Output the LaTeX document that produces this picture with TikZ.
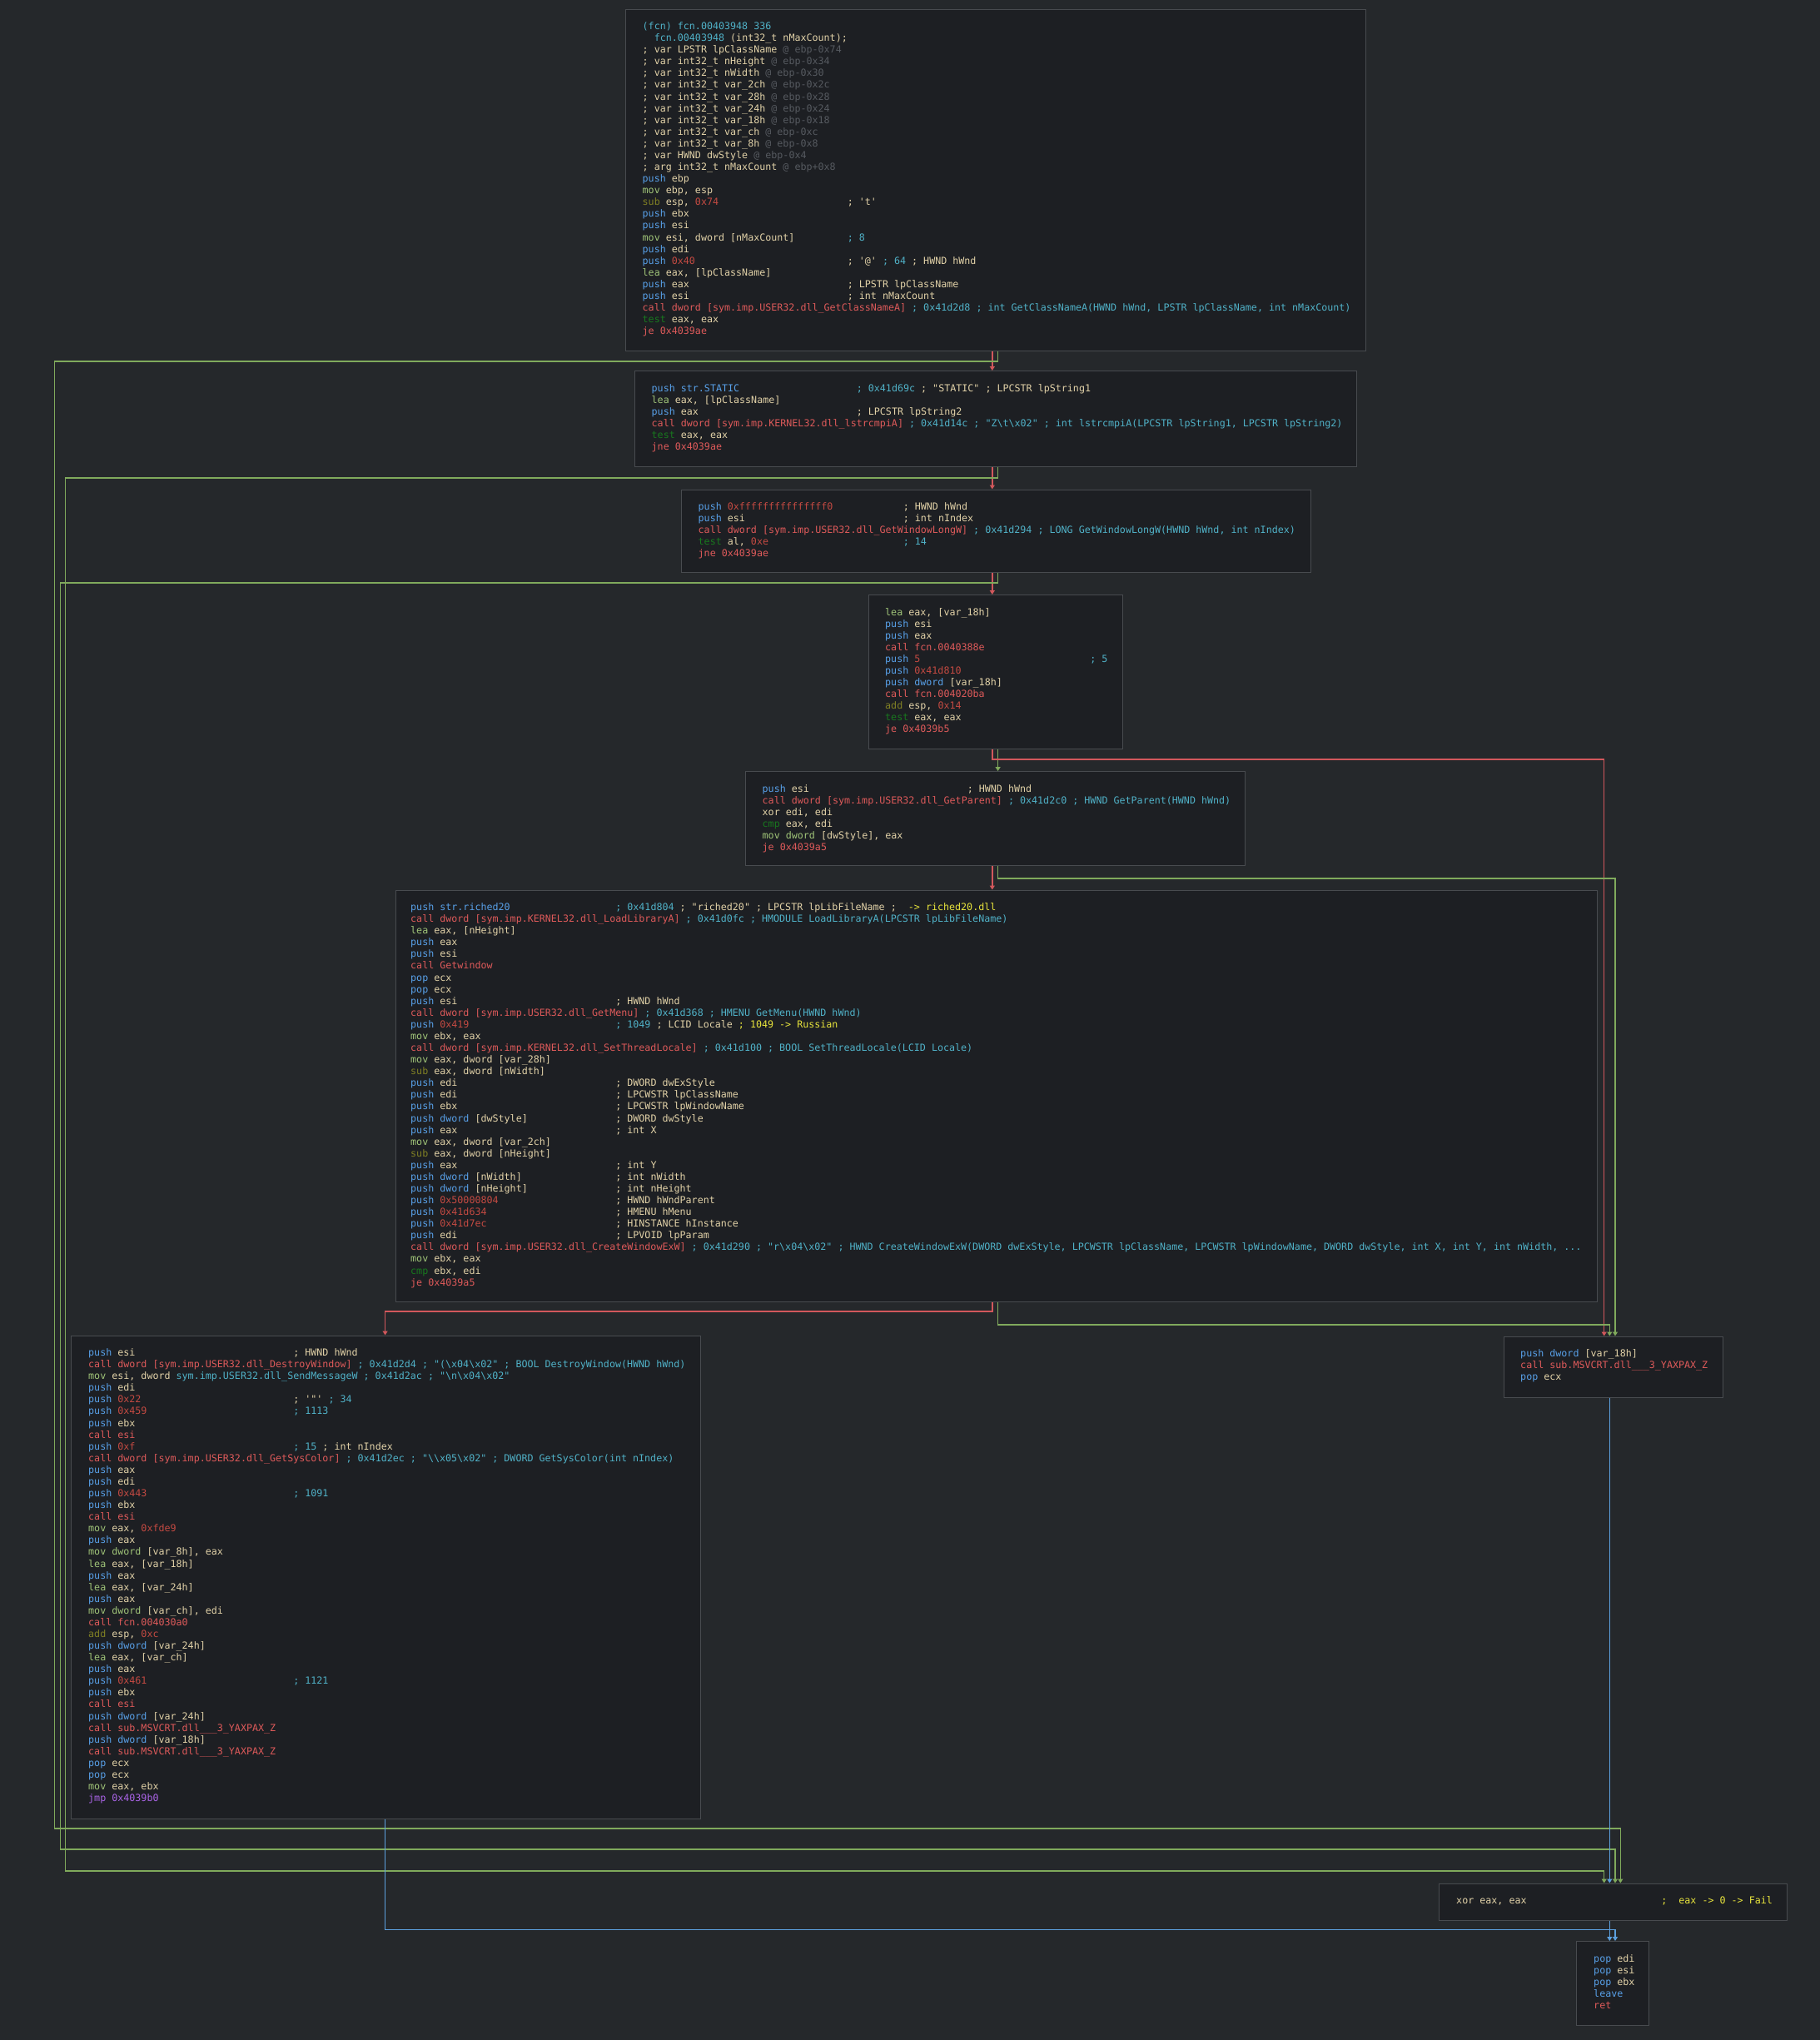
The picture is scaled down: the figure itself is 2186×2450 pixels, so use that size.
\documentclass[tikz,border=0pt]{standalone}
\usepackage{fontspec}
\usepackage{xcolor}
\usetikzlibrary{arrows.meta}
\newfontfamily\asmfont{DejaVu Sans Mono}

\definecolor{bgdark}{RGB}{37,40,43}
\definecolor{boxfill}{RGB}{29,31,35}
\definecolor{boxline}{RGB}{72,75,79}
\definecolor{opblue}{RGB}{88,160,232}
\definecolor{opred}{RGB}{222,90,90}
\definecolor{numred}{RGB}{196,74,66}
\definecolor{opmov}{RGB}{160,196,120}
\definecolor{oparith}{RGB}{128,128,36}
\definecolor{optest}{RGB}{24,120,30}
\definecolor{opjmp}{RGB}{170,100,230}
\definecolor{cmtcyan}{RGB}{80,178,200}
\definecolor{cmtyel}{RGB}{232,228,60}
\definecolor{dimgrey}{RGB}{86,90,96}
\definecolor{plain}{RGB}{226,210,168}
\definecolor{edgegreen}{RGB}{128,170,92}
\definecolor{edgered}{RGB}{210,88,92}
\definecolor{edgeblue}{RGB}{92,160,222}

% token colours
\newcommand\Bl[1]{\textcolor{opblue}{#1}}
\newcommand\Rd[1]{\textcolor{opred}{#1}}
\newcommand\Nm[1]{\textcolor{numred}{#1}}
\newcommand\Mv[1]{\textcolor{opmov}{#1}}
\newcommand\Ar[1]{\textcolor{oparith}{#1}}
\newcommand\Ts[1]{\textcolor{optest}{#1}}
\newcommand\Jp[1]{\textcolor{opjmp}{#1}}
\newcommand\Cy[1]{\textcolor{cmtcyan}{#1}}
\newcommand\Ye[1]{\textcolor{cmtyel}{#1}}
\newcommand\Dm[1]{\textcolor{dimgrey}{#1}}
\newlength\cw
\newcommand\At[2]{\makebox[35\cw][l]{#1}#2}
\newcommand\nl{\\\strut}
\newcommand\bs{\textbackslash}

\begin{document}
\catcode`\_=12
\settowidth{\cw}{\fontsize{11.68}{14.08}\selectfont\asmfont 0}
\begin{tikzpicture}[x=1pt,y=-1pt,>={Triangle[width=6pt,length=5pt]},
    blk/.style={draw=boxline,fill=boxfill,line width=1.2pt,inner sep=0pt,anchor=north west},
    code/.style={anchor=north west,inner sep=0pt,align=left,text=plain,
      font=\fontsize{11.68}{14.08}\selectfont\asmfont},
    tru/.style={->,draw=edgegreen,line width=1.5pt},
    fls/.style={->,draw=edgered,line width=1.5pt},
    unc/.style={->,draw=edgeblue,line width=1.5pt}]
  \fill[bgdark] (0,0) rectangle (2186,2450);
  \useasboundingbox (0,0) rectangle (2186,2450);

  % blocks
  \node[blk,minimum width=889pt,minimum height=410pt] (b1) at (751,10.5) {};
  \node[blk,minimum width=867pt,minimum height=115pt] (b2) at (762,445) {};
  \node[blk,minimum width=755.5pt,minimum height=99.5pt] (b3) at (818,587.5) {};
  \node[blk,minimum width=305pt,minimum height=184.5pt] (b4) at (1042.5,714) {};
  \node[blk,minimum width=600pt,minimum height=112.5pt] (b5) at (895,926) {};
  \node[blk,minimum width=1443.5pt,minimum height=494pt] (b6) at (474.5,1068.5) {};
  \node[blk,minimum width=756pt,minimum height=580pt] (b7) at (85,1603.5) {};
  \node[blk,minimum width=263pt,minimum height=73pt] (b8) at (1805.5,1604.5) {};
  \node[blk,minimum width=418pt,minimum height=44pt] (b9) at (1728,2261.5) {};
  \node[blk,minimum width=87pt,minimum height=101pt] (b10) at (1893,2331) {};

  \node[code] (t1) at ([shift={(20.5,15)}]b1.north west) {\strut\Cy{(fcn) fcn.00403948 336}\nl
    \hspace*{2\cw}\Cy{fcn.00403948} (int32_t nMaxCount);\nl
    ; var LPSTR lpClassName \Dm{@ ebp-0x74}\nl
    ; var int32_t nHeight \Dm{@ ebp-0x34}\nl
    ; var int32_t nWidth \Dm{@ ebp-0x30}\nl
    ; var int32_t var_2ch \Dm{@ ebp-0x2c}\nl
    ; var int32_t var_28h \Dm{@ ebp-0x28}\nl
    ; var int32_t var_24h \Dm{@ ebp-0x24}\nl
    ; var int32_t var_18h \Dm{@ ebp-0x18}\nl
    ; var int32_t var_ch \Dm{@ ebp-0xc}\nl
    ; var int32_t var_8h \Dm{@ ebp-0x8}\nl
    ; var HWND dwStyle \Dm{@ ebp-0x4}\nl
    ; arg int32_t nMaxCount \Dm{@ ebp+0x8}\nl
    \Bl{push} ebp\nl
    \Mv{mov} ebp, esp\nl
    \At{\Ar{sub} esp, \Nm{0x74}}{; 't'}\nl
    \Bl{push} ebx\nl
    \Bl{push} esi\nl
    \At{\Mv{mov} esi, dword [nMaxCount]}{\Cy{; 8}}\nl
    \Bl{push} edi\nl
    \At{\Bl{push} \Nm{0x40}}{; '@' \Cy{; 64} ; HWND hWnd}\nl
    \Mv{lea} eax, [lpClassName]\nl
    \At{\Bl{push} eax}{; LPSTR lpClassName}\nl
    \At{\Bl{push} esi}{; int nMaxCount}\nl
    \Rd{call dword [sym.imp.USER32.dll_GetClassNameA]} \Cy{; 0x41d2d8 ; int GetClassNameA(HWND hWnd, LPSTR lpClassName, int nMaxCount)}\nl
    \Ts{test} eax, eax\nl
    \Rd{je 0x4039ae}};

  \node[code] (t2) at ([shift={(20.5,15)}]b2.north west) {\strut\At{\Bl{push str.STATIC}}{\Cy{; 0x41d69c} ; "STATIC" ; LPCSTR lpString1}\nl
    \Mv{lea} eax, [lpClassName]\nl
    \At{\Bl{push} eax}{; LPCSTR lpString2}\nl
    \Rd{call dword [sym.imp.KERNEL32.dll_lstrcmpiA]} \Cy{; 0x41d14c ; "Z\bs t\bs x02" ; int lstrcmpiA(LPCSTR lpString1, LPCSTR lpString2)}\nl
    \Ts{test} eax, eax\nl
    \Rd{jne 0x4039ae}};

  \node[code] (t3) at ([shift={(20.5,15)}]b3.north west) {\strut\At{\Bl{push} \Nm{0xfffffffffffffff0}}{; HWND hWnd}\nl
    \At{\Bl{push} esi}{; int nIndex}\nl
    \Rd{call dword [sym.imp.USER32.dll_GetWindowLongW]} \Cy{; 0x41d294 ; LONG GetWindowLongW(HWND hWnd, int nIndex)}\nl
    \At{\Ts{test} al, \Nm{0xe}}{\Cy{; 14}}\nl
    \Rd{jne 0x4039ae}};

  \node[code] (t4) at ([shift={(20.5,15)}]b4.north west) {\strut\Mv{lea} eax, [var_18h]\nl
    \Bl{push} esi\nl
    \Bl{push} eax\nl
    \Rd{call fcn.0040388e}\nl
    \At{\Bl{push} \Nm{5}}{\Cy{; 5}}\nl
    \Bl{push} \Nm{0x41d810}\nl
    \Bl{push dword} [var_18h]\nl
    \Rd{call fcn.004020ba}\nl
    \Ar{add} esp, \Nm{0x14}\nl
    \Ts{test} eax, eax\nl
    \Rd{je 0x4039b5}};

  \node[code] (t5) at ([shift={(20.5,15)}]b5.north west) {\strut\At{\Bl{push} esi}{; HWND hWnd}\nl
    \Rd{call dword [sym.imp.USER32.dll_GetParent]} \Cy{; 0x41d2c0 ; HWND GetParent(HWND hWnd)}\nl
    xor edi, edi\nl
    \Ts{cmp} eax, edi\nl
    \Mv{mov dword} [dwStyle], eax\nl
    \Rd{je 0x4039a5}};

  \node[code] (t6) at ([shift={(18.5,15)}]b6.north west) {\strut\At{\Bl{push str.riched20}}{\Cy{; 0x41d804} ; "riched20" ; LPCSTR lpLibFileName ;\ \ \Ye{-> riched20.dll}}\nl
    \Rd{call dword [sym.imp.KERNEL32.dll_LoadLibraryA]} \Cy{; 0x41d0fc ; HMODULE LoadLibraryA(LPCSTR lpLibFileName)}\nl
    \Mv{lea} eax, [nHeight]\nl
    \Bl{push} eax\nl
    \Bl{push} esi\nl
    \Rd{call Getwindow}\nl
    \Bl{pop} ecx\nl
    \Bl{pop} ecx\nl
    \At{\Bl{push} esi}{; HWND hWnd}\nl
    \Rd{call dword [sym.imp.USER32.dll_GetMenu]} \Cy{; 0x41d368 ; HMENU GetMenu(HWND hWnd)}\nl
    \At{\Bl{push} \Nm{0x419}}{\Cy{; 1049} ; LCID Locale \Ye{; 1049 -> Russian}}\nl
    \Mv{mov} ebx, eax\nl
    \Rd{call dword [sym.imp.KERNEL32.dll_SetThreadLocale]} \Cy{; 0x41d100 ; BOOL SetThreadLocale(LCID Locale)}\nl
    \Mv{mov} eax, dword [var_28h]\nl
    \Ar{sub} eax, dword [nWidth]\nl
    \At{\Bl{push} edi}{; DWORD dwExStyle}\nl
    \At{\Bl{push} edi}{; LPCWSTR lpClassName}\nl
    \At{\Bl{push} ebx}{; LPCWSTR lpWindowName}\nl
    \At{\Bl{push dword} [dwStyle]}{; DWORD dwStyle}\nl
    \At{\Bl{push} eax}{; int X}\nl
    \Mv{mov} eax, dword [var_2ch]\nl
    \Ar{sub} eax, dword [nHeight]\nl
    \At{\Bl{push} eax}{; int Y}\nl
    \At{\Bl{push dword} [nWidth]}{; int nWidth}\nl
    \At{\Bl{push dword} [nHeight]}{; int nHeight}\nl
    \At{\Bl{push} \Nm{0x50000804}}{; HWND hWndParent}\nl
    \At{\Bl{push} \Nm{0x41d634}}{; HMENU hMenu}\nl
    \At{\Bl{push} \Nm{0x41d7ec}}{; HINSTANCE hInstance}\nl
    \At{\Bl{push} edi}{; LPVOID lpParam}\nl
    \Rd{call dword [sym.imp.USER32.dll_CreateWindowExW]} \Cy{; 0x41d290 ; "r\bs x04\bs x02" ; HWND CreateWindowExW(DWORD dwExStyle, LPCWSTR lpClassName, LPCWSTR lpWindowName, DWORD dwStyle, int X, int Y, int nWidth, ...}\nl
    \Mv{mov} ebx, eax\nl
    \Ts{cmp} ebx, edi\nl
    \Rd{je 0x4039a5}};

  \node[code] (t7) at ([shift={(21,15)}]b7.north west) {\strut\At{\Bl{push} esi}{; HWND hWnd}\nl
    \Rd{call dword [sym.imp.USER32.dll_DestroyWindow]} \Cy{; 0x41d2d4 ; "(\bs x04\bs x02" ; BOOL DestroyWindow(HWND hWnd)}\nl
    \Mv{mov} esi, dword \Cy{sym.imp.USER32.dll_SendMessageW ; 0x41d2ac ; "\bs n\bs x04\bs x02"}\nl
    \Bl{push} edi\nl
    \At{\Bl{push} \Nm{0x22}}{; '"' \Cy{; 34}}\nl
    \At{\Bl{push} \Nm{0x459}}{\Cy{; 1113}}\nl
    \Bl{push} ebx\nl
    \Rd{call esi}\nl
    \At{\Bl{push} \Nm{0xf}}{\Cy{; 15} ; int nIndex}\nl
    \Rd{call dword [sym.imp.USER32.dll_GetSysColor]} \Cy{; 0x41d2ec ; "\bs\bs x05\bs x02" ; DWORD GetSysColor(int nIndex)}\nl
    \Bl{push} eax\nl
    \Bl{push} edi\nl
    \At{\Bl{push} \Nm{0x443}}{\Cy{; 1091}}\nl
    \Bl{push} ebx\nl
    \Rd{call esi}\nl
    \Mv{mov} eax, \Nm{0xfde9}\nl
    \Bl{push} eax\nl
    \Mv{mov dword} [var_8h], eax\nl
    \Mv{lea} eax, [var_18h]\nl
    \Bl{push} eax\nl
    \Mv{lea} eax, [var_24h]\nl
    \Bl{push} eax\nl
    \Mv{mov dword} [var_ch], edi\nl
    \Rd{call fcn.004030a0}\nl
    \Ar{add} esp, \Nm{0xc}\nl
    \Bl{push dword} [var_24h]\nl
    \Mv{lea} eax, [var_ch]\nl
    \Bl{push} eax\nl
    \At{\Bl{push} \Nm{0x461}}{\Cy{; 1121}}\nl
    \Bl{push} ebx\nl
    \Rd{call esi}\nl
    \Bl{push dword} [var_24h]\nl
    \Rd{call sub.MSVCRT.dll___3_YAXPAX_Z}\nl
    \Bl{push dword} [var_18h]\nl
    \Rd{call sub.MSVCRT.dll___3_YAXPAX_Z}\nl
    \Bl{pop} ecx\nl
    \Bl{pop} ecx\nl
    \Mv{mov} eax, ebx\nl
    \Jp{jmp 0x4039b0}};

  \node[code] (t8) at ([shift={(20.5,15)}]b8.north west) {\strut\Bl{push dword} [var_18h]\nl
    \Rd{call sub.MSVCRT.dll___3_YAXPAX_Z}\nl
    \Bl{pop} ecx};

  \node[code] (t9) at ([shift={(21,15)}]b9.north west) {\strut\At{xor eax, eax}{\Ye{;\ \ eax -> 0 -> Fail}}};

  \node[code] (t10) at ([shift={(21,15)}]b10.north west) {\strut\Bl{pop} edi\nl
    \Bl{pop} esi\nl
    \Bl{pop} ebx\nl
    \Bl{leave}\nl
    \Rd{ret}};

  % lanes
  \coordinate (xr) at (1191.8,0);
  \coordinate (xg) at (1198.6,0);
  \coordinate (x7) at (462.6,0);
  \coordinate (in1) at (1926.7,0);
  \coordinate (in2) at (1933.3,0);
  \coordinate (in3) at (1940,0);
  \coordinate (in4) at (1946.3,0);

  % edges
  \draw[fls] (xr |- b1.south) -- (xr |- b2.north);
  \draw[tru] (xg |- b1.south) |- (65.7,434) |- (1946.3,2196) -- (in4 |- b9.north);
  \draw[fls] (xr |- b2.south) -- (xr |- b3.north);
  \draw[tru] (xg |- b2.south) |- (78.7,574) |- (1926.7,2247) -- (in1 |- b9.north);
  \draw[fls] (xr |- b3.south) -- (xr |- b4.north);
  \draw[tru] (xg |- b3.south) |- (72.3,700) |- (1940,2221) -- (in3 |- b9.north);
  \draw[tru] (xg |- b4.south) -- (xg |- b5.north);
  \draw[fls] (xr |- b4.south) |- (1926.7,912) -- (in1 |- b8.north);
  \draw[fls] (xr |- b5.south) -- (xr |- b6.north);
  \draw[tru] (xg |- b5.south) |- (1940,1055) -- (in3 |- b8.north);
  \draw[fls] (xr |- b6.south) |- (462.6,1575) -- (x7 |- b7.north);
  \draw[tru] (xg |- b6.south) |- (1933.3,1591) -- (in2 |- b8.north);
  \draw[unc] (in2 |- b8.south) -- (in2 |- b9.north);
  \draw[unc] (in2 |- b9.south) -- (in2 |- b10.north);
  \draw[unc] (x7 |- b7.south) |- (1940,2317.7) -- (in3 |- b10.north);
\end{tikzpicture}
\end{document}
